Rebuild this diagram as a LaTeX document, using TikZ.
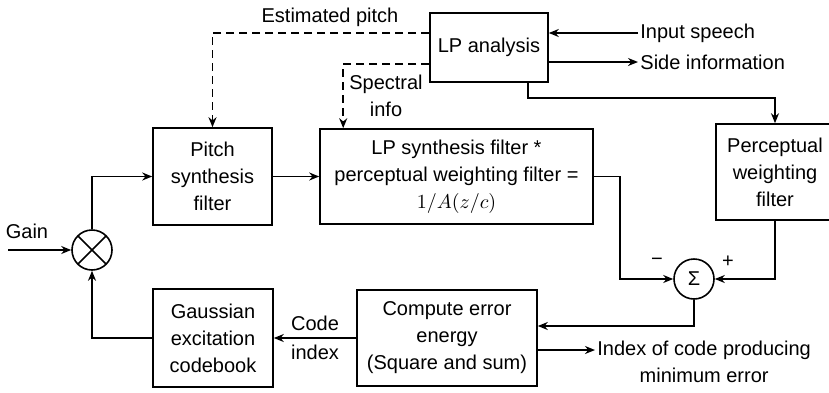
\documentclass[tikz,border=0pt]{standalone}
\usepackage{fontspec}
\setmainfont{Liberation Sans}
\usepackage{tikz}
\usetikzlibrary{arrows.meta,calc}
\tikzset{
  blockbox/.style={draw,line width=0.8pt,align=center,inner sep=1pt,
    font=\fontsize{10}{13.5}\selectfont},
  circnode/.style={draw,circle,line width=0.8pt,minimum size=20pt,inner sep=0pt},
  lbl/.style={inner sep=1pt,align=center,font=\fontsize{10}{13.5}\selectfont},
  sig/.style={draw,line width=0.9pt,->,>={Stealth[length=5pt,width=4pt]}},
  sigdash/.style={sig,dash pattern=on 4pt off 2.5pt},
}
\begin{document}
\begin{tikzpicture}[x=0.5pt,y=-0.5pt]
\clip (0,0) rectangle (829,392);

\node[blockbox,minimum width=59pt,minimum height=34.5pt] (lpa) at (489,47.5) {LP analysis};
\node[blockbox,minimum width=59.5pt,minimum height=48.5pt] (pitch) at (212.5,176.5) {Pitch\\synthesis\\filter};
\node[blockbox,minimum width=136.5pt,minimum height=47.5pt] (lps) at (456.5,176.5)
  {LP synthesis filter *\\perceptual weighting filter =\\$1/A(z/c)$};
\node[blockbox,minimum width=59pt,minimum height=48pt] (perc) at (775,172) {Perceptual\\weighting\\filter};
\node[blockbox,minimum width=90pt,minimum height=48pt] (comp) at (447,338) {Compute error\\energy\\(Square and sum)};
\node[blockbox,minimum width=60pt,minimum height=49pt] (gauss) at (213,338) {Gaussian\\excitation\\codebook};

\node[circnode,path picture={
  \draw[line width=0.8pt] (path picture bounding box.north west) -- (path picture bounding box.south east)
    (path picture bounding box.north east) -- (path picture bounding box.south west);}] (mult) at (92,250) {};
\node[circnode] (sum) at (694,279) {Σ};

\node[lbl] (est) at (330,17) {Estimated pitch};
\node[lbl] (spec) at (386,96) {Spectral\\info};
\node[lbl,anchor=west] (inspeech) at (638,33) {Input speech};
\node[lbl,anchor=west] (sideinfo) at (638,62) {Side information};
\node[lbl] (gain) at (27,231) {Gain};
\node[lbl] (minus) at (657,262) {−};
\node[lbl] (plus) at (728,262) {+};
\node[lbl,anchor=west] (idxout) at (595,362) {Index of code producing\\minimum error};
\coordinate (gainin) at (8,250);

\draw[sig] (inspeech.west) -- (inspeech.west -| lpa.east);
\draw[sig] (sideinfo.west -| lpa.east) -- (sideinfo.west);
\draw[sigdash] (lpa.west |- inspeech.west) -| (pitch.north);
\draw[sigdash] ([yshift=-1pt]lpa.west |- sideinfo.west) -| ([xshift=12pt]lps.north west);
\draw[sig] ([xshift=19.5pt]lpa.south) -- ++(0,15) -| (perc.north);
\draw[sig] (gainin) -- (mult.west);
\draw[sig] (mult.north) |- (pitch.west);
\draw[sig] (pitch.east) -- (lps.west);
\draw[sig] (lps.east) -- ++(26,0) |- (sum.west);
\draw[sig] (perc.south) |- (sum.east);
\draw[sig] (sum.south) |- ([yshift=6pt]comp.east);
\draw[sig] ([yshift=-6pt]comp.east) -- ([yshift=-6pt]comp.east -| idxout.west);
\draw[sig] (comp.west) -- node[lbl,above=2pt] {Code} node[lbl,below=2pt] {index} (gauss.east);
\draw[sig] (gauss.west) -| (mult.south);

\end{tikzpicture}
\end{document}
